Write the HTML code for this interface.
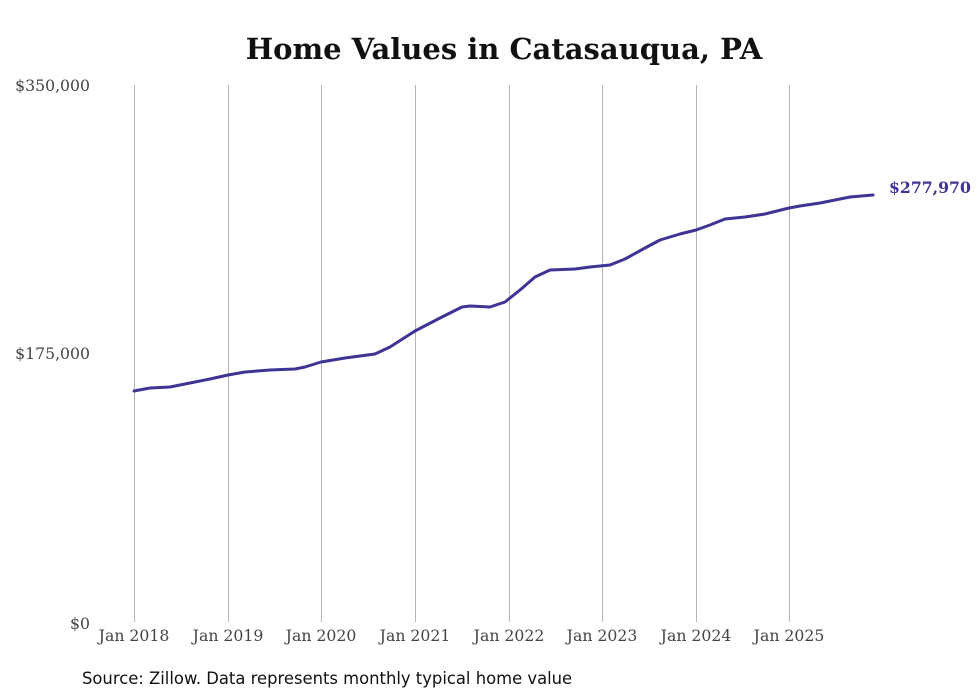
<!DOCTYPE html>
<html><head><meta charset="utf-8"><style>
body{margin:0;background:#fff;}
svg{display:block;}
</style></head><body>
<svg width="980" height="699" viewBox="0 0 980 699" xmlns="http://www.w3.org/2000/svg">
<rect width="980" height="699" fill="#fff"/>
<text x="504" y="59" text-anchor="middle" font-family="DejaVu Serif, Liberation Serif, serif" font-weight="bold" font-size="29" fill="#111">Home Values in Catasauqua, PA</text>
<g stroke="#b5b5b5" stroke-width="1">
<line x1="134.5" y1="85" x2="134.5" y2="622"/>
<line x1="228.5" y1="85" x2="228.5" y2="622"/>
<line x1="321.5" y1="85" x2="321.5" y2="622"/>
<line x1="415.5" y1="85" x2="415.5" y2="622"/>
<line x1="509.5" y1="85" x2="509.5" y2="622"/>
<line x1="602.5" y1="85" x2="602.5" y2="622"/>
<line x1="696.5" y1="85" x2="696.5" y2="622"/>
<line x1="789.5" y1="85" x2="789.5" y2="622"/>
</g>
<g font-family="DejaVu Serif, Liberation Serif, serif" font-size="15.7" fill="#444">
<text x="90" y="91" text-anchor="end">$350,000</text>
<text x="90" y="359" text-anchor="end">$175,000</text>
<text x="90" y="629" text-anchor="end">$0</text>
<g text-anchor="middle">
<text x="134" y="641">Jan 2018</text>
<text x="228" y="641">Jan 2019</text>
<text x="321" y="641">Jan 2020</text>
<text x="415" y="641">Jan 2021</text>
<text x="509" y="641">Jan 2022</text>
<text x="602" y="641">Jan 2023</text>
<text x="696" y="641">Jan 2024</text>
<text x="789" y="641">Jan 2025</text>
</g>
</g>
<polyline fill="none" stroke="#3e3495" stroke-width="3" stroke-linejoin="round" stroke-linecap="round"
points="134,391 150,388 170,387 190,383 210,379 228,375 245,372 270,370 295,369 305,367 321,362 345,358 375,354 390,347 415,331 440,318 462,307 470,306 490,307 505,302 520,290 535,277 550,270 575,269 590,267 610,265 625,259 645,248 660,240 680,234 696,230 710,225 725,219 745,217 765,214 789,208 800,206 820,203 835,200 850,197 873,195"/>
<text x="889" y="193" font-family="DejaVu Serif, Liberation Serif, serif" font-weight="bold" font-size="15.7" fill="#3e3495">$277,970</text>
<text x="82" y="684" font-family="DejaVu Sans, Liberation Sans, sans-serif" font-size="16.4" fill="#111">Source: Zillow. Data represents monthly typical home value</text>
</svg>
</body></html>
